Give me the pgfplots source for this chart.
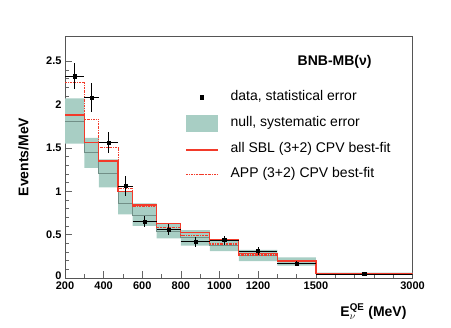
\documentclass[border=0pt]{standalone}
\usepackage{fontspec}
\setmainfont{Liberation Sans}
\usepackage{amsmath}
\usepackage{pgfplots}
\usepackage{pgfplotstable}
\pgfplotsset{compat=1.18}

\definecolor{sysband}{HTML}{A8CEC4}
\definecolor{nullline}{HTML}{718F87}
\definecolor{fitred}{HTML}{F23A2A}
\definecolor{frame}{HTML}{555555}

\pgfplotsset{
  dashdot fit/.style={dash pattern=on 2pt off 1pt on 0.6pt off 1pt},
}

% x is the displayed energy: linear up to 1500 MeV, the 1500-3000 bin is drawn 500 wide
% step tables: left bin edges, last row repeats the final bin up to the right end
\pgfplotstableread{
x     null   sbl    app
200   1.81   1.88   2.25
300   1.443  1.563  1.83
375   1.206  1.348  1.50
475   0.864  0.994  1.033
550   0.726  0.841  0.82
675   0.543  0.63   0.584
800   0.463  0.526  0.487
950   0.378  0.438  0.392
1100  0.26   0.284  0.265
1300  0.19   0.196  0.207
1500  0.050  0.054  0.054
2000  0.050  0.054  0.054
}\steps

\pgfplotstableread{
x      ex     y      ey
250    50     2.327  0.15
337.5  37.5   2.08   0.163
425    50     1.563  0.12
512.5  37.5   1.06   0.12
612.5  62.5   0.649  0.066
737.5  62.5   0.56   0.064
875    75     0.418  0.058
1025   75     0.438  0.052
1200   100    0.311  0.045
1400   100    0.169  0.025
1750   250    0.046  0.008
}\data

\begin{document}
\begin{tikzpicture}
\begin{axis}[
  scale only axis,
  width=347.5pt, height=242pt,
  xmin=200, xmax=2000, ymin=0, ymax=2.79,
  axis line style={frame, line width=0.8pt},
  tick style={gray!80!black, line width=0.6pt},
  tick align=inside,
  xtick pos=bottom, ytick pos=left,
  major tick length=7pt, minor tick length=4pt,
  xtick={200,400,600,800,1000,1200,1500,2000},
  xticklabels={200,400,600,800,1000,1200,1500,3000},
  minor xtick={300,500,700,900,1100,1300,1400,1600,1700,1800,1900},
  ytick={0,0.5,1,1.5,2,2.5},
  yticklabels={\raisebox{4pt}{0},0.5,1,1.5,2,2.5},
  minor y tick num=4,
  tick label style={font=\bfseries\fontsize{11}{13}\selectfont},
  xlabel={\bfseries E$^{\text{QE}}_{\nu}$ (MeV)},
  xlabel style={font=\bfseries\fontsize{14}{16}\selectfont,
    at={([xshift=-2.5pt,yshift=-38pt]rel axis cs:1,0)}, anchor=base east},
  ylabel={Events/MeV},
  ylabel style={font=\bfseries\fontsize{14}{16}\selectfont,
    at={([xshift=-36.5pt]rel axis cs:0,0.5)}, anchor=base},
  legend style={draw=none, fill=none, inner sep=0pt,
    at={(rel axis cs:0.347,0.777)}, anchor=north west,
    font=\fontsize{14}{16}\selectfont, row sep=11pt,
    nodes={inner sep=0pt, text height=10pt, text depth=4pt},
    /tikz/every odd column/.append style={column sep=12.7pt}},
  legend cell align=left,
]
% null prediction with systematic band (upper edge left to right, lower edge back)
\addplot[fill=sysband, draw=none, forget plot] coordinates {
  (200,2.07)(300,2.07)(300,1.616)(375,1.616)(375,1.367)(475,1.367)(475,0.994)(550,0.994)
  (550,0.86)(675,0.86)(675,0.63)(800,0.63)(800,0.553)(950,0.553)(950,0.446)(1100,0.446)
  (1100,0.323)(1300,0.323)(1300,0.238)(1500,0.238)(1500,0.062)(2000,0.062)
  (2000,0.040)(1500,0.040)(1500,0.142)(1300,0.142)(1300,0.196)(1100,0.196)(1100,0.311)
  (950,0.311)(950,0.372)(800,0.372)(800,0.457)(675,0.457)(675,0.60)(550,0.60)(550,0.734)
  (475,0.734)(475,1.045)(375,1.045)(375,1.27)(300,1.27)(300,1.55)(200,1.55)} --cycle;
\addplot[const plot mark left, nullline, line width=0.8pt, forget plot] table[x=x, y=null]{\steps};

% best fits
\addplot[const plot mark left, fitred, line width=1.2pt, forget plot] table[x=x, y=sbl]{\steps};
\addplot[const plot mark left, fitred, line width=1.1pt, dashdot fit, forget plot] table[x=x, y=app]{\steps};

% data
\addplot[black, only marks, mark=square*, mark size=1.6pt, forget plot,
  error bars/.cd, x dir=both, x explicit, y dir=both, y explicit,
  error mark=none, error bar style={black, line width=0.9pt}]
  table[x=x, y=y, x error=ex, y error=ey]{\data};

% legend
\addlegendimage{only marks, black, mark=square*, mark size=1.6pt,
  legend image post style={xshift=7pt}}
\addlegendentry{data, statistical error}
\addlegendimage{area legend, fill=sysband, draw=sysband,
  legend image post style={xscale=1.82, yscale=2.8}}
\addlegendentry{null, systematic error}
\addlegendimage{legend image code/.code={\fill[fitred] (0pt,-0.6pt) rectangle (31pt,0.6pt);}}
\addlegendentry{all SBL (3+2) CPV best-fit}
\addlegendimage{color=fitred, line width=1.1pt, dashdot fit,
  legend image post style={xscale=1.82}}
\addlegendentry{APP (3+2) CPV best-fit}

\node[font=\bfseries\fontsize{14}{16}\selectfont] at (rel axis cs:0.776,0.895) {BNB-MB(ν)};
\end{axis}
\pgfresetboundingbox
\path ([xshift=-65pt,yshift=-49pt]current axis.south west) rectangle
      ([xshift=38.5pt,yshift=36pt]current axis.north east);
\end{tikzpicture}
\end{document}
